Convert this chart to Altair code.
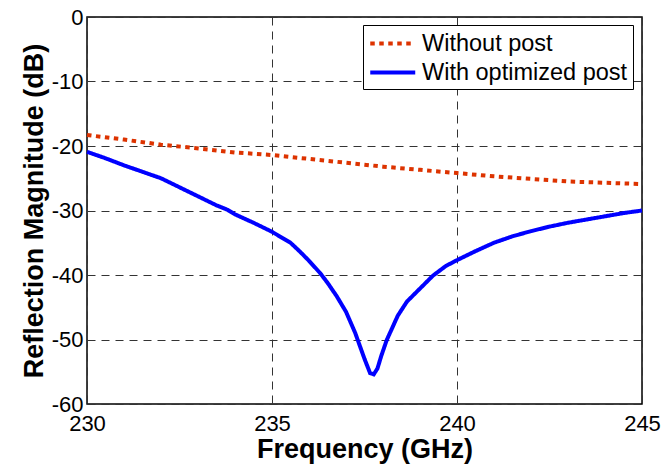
import altair as alt
import pandas as pd

series_names = ["Without post", "With optimized post"]

freq_without = [230, 231, 232, 232.9, 234, 235, 236, 237, 238, 239, 240, 241, 242, 243, 244, 245]
db_without = [-18.3, -19.0, -19.8, -20.3, -21.0, -21.4, -22.0, -22.6, -23.2, -23.7, -24.2, -24.7, -25.1, -25.5, -25.7, -25.9]

freq_with = [230.0, 230.5, 231.0, 231.6, 232.0, 232.5, 233.0, 233.5, 233.8, 234.0, 234.5, 235.0,
             235.5, 235.76, 236.0, 236.3, 236.5, 236.75, 237.0, 237.25, 237.5, 237.65, 237.75,
             237.85, 237.95, 238.1, 238.4, 238.65, 239.0, 239.35, 239.7, 240.0, 240.5, 241.0,
             241.5, 242.0, 242.5, 243.0, 243.5, 244.0, 244.5, 245.0]
db_with = [-20.9, -21.9, -23.0, -24.2, -25.0, -26.4, -27.8, -29.2, -29.9, -30.6, -31.9, -33.3,
           -35.0, -36.4, -37.8, -39.7, -41.2, -43.3, -45.7, -49.0, -53.0, -55.2, -55.4,
           -54.5, -52.6, -50.1, -46.3, -44.1, -42.1, -40.1, -38.6, -37.7, -36.3, -35.0,
           -34.0, -33.2, -32.5, -31.9, -31.4, -30.9, -30.4, -30.0]

x_ticks = [230, 235, 240, 245]
y_ticks = [0, -10, -20, -30, -40, -50, -60]

df = pd.concat([
    pd.DataFrame({"freq": freq_without, "db": db_without, "series": series_names[0]}),
    pd.DataFrame({"freq": freq_with, "db": db_with, "series": series_names[1]}),
])

FONT = "Liberation Sans"

legend = alt.Legend(
    title=None, orient="none", legendX=276, legendY=8,
    symbolType="M-1,0H3", symbolSize=506, symbolStrokeWidth=4,
    symbolFillColor="transparent",
    labelFont=FONT, labelFontSize=23.5, labelColor="black", labelOffset=27, labelLimit=0,
    fillColor="white", strokeColor="black", padding=5, rowPadding=4,
    cornerRadius=0,
)

chart = alt.Chart(df).mark_line(strokeWidth=4, strokeCap="butt").encode(
    x=alt.X("freq:Q", scale=alt.Scale(domain=[230, 245], nice=False, zero=False),
            axis=alt.Axis(values=x_ticks, title="Frequency (GHz)", labelFlush=False,
                          labelExpr="toString(datum.value)")),
    y=alt.Y("db:Q", scale=alt.Scale(domain=[-60, 0], nice=False),
            axis=alt.Axis(values=y_ticks, title="Reflection Magnitude (dB)", labelFlush=False,
                          labelExpr="toString(datum.value)")),
    color=alt.Color("series:N", sort=series_names,
                    scale=alt.Scale(domain=series_names, range=["#DD3300", "#0000FF"]),
                    legend=legend),
    strokeDash=alt.StrokeDash("series:N", sort=series_names,
                              scale=alt.Scale(domain=series_names, range=[[4.5, 4.5], [1, 0]]),
                              legend=legend),
).properties(
    width=555, height=387,
    autosize=alt.AutoSizeParams(type="none"),
    padding={"left": 87, "top": 17, "right": 21, "bottom": 66},
).configure_view(
    stroke="black", strokeWidth=1.5
).configure_axis(
    domain=False, ticks=False,
    grid=True, gridColor="#333333", gridDash=[8, 6], gridWidth=1, gridOpacity=1,
    labelFont=FONT, labelFontSize=22, labelColor="black",
    titleFont=FONT, titleFontSize=27, titleFontWeight="bold", titleColor="black",
).configure_axisX(
    labelPadding=9, titlePadding=2,
).configure_axisY(
    labelPadding=4, titlePadding=3,
)

chart.save("out.html", embed_options={"renderer": "svg", "actions": False})
